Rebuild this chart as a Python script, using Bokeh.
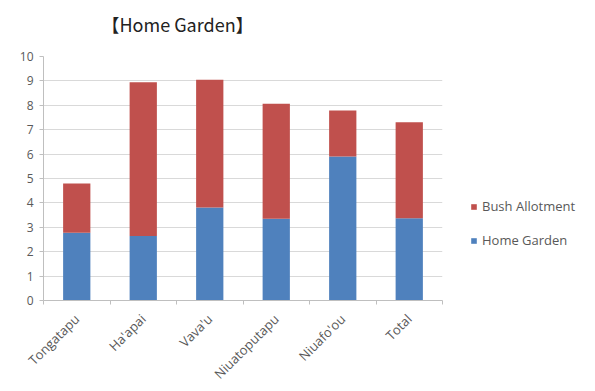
import math
from bokeh.plotting import figure
from bokeh.models import (Range1d, FixedTicker, ColumnDataSource, Legend, LegendItem, Title)
from bokeh.embed import file_html
from bokeh.resources import INLINE

categories = ["Tongatapu", "Ha'apai", "Vava'u", "Niuatoputapu", "Niuafo'ou", "Total"]
home_garden = [2.78, 2.64, 3.81, 3.35, 5.90, 3.37]
bush_allotment = [2.01, 6.30, 5.24, 4.71, 1.89, 3.94]
y_ticks = [0, 1, 2, 3, 4, 5, 6, 7, 8, 9, 10]

BLUE = "#4F81BD"
RED = "#C0504D"
FONT = "Open Sans"

xpos = [i + 0.5 for i in range(len(categories))]
src = ColumnDataSource(dict(x=xpos, home=home_garden, bush=bush_allotment))

p = figure(frame_width=399, frame_height=244,
           x_range=Range1d(0, len(categories)), y_range=Range1d(0, 10),
           output_backend="svg", toolbar_location=None,
           min_border_left=43, min_border_right=137, min_border_top=0, min_border_bottom=75)
p.outline_line_color = None
p.background_fill_color = "white"
p.border_fill_color = "white"

rs = p.vbar_stack(["home", "bush"], x="x", width=0.41, source=src,
                  color=[BLUE, RED], line_color=None)

# axes
p.xgrid.grid_line_color = None
p.ygrid.grid_line_color = "#D9D9D9"
p.ygrid.grid_line_width = 1

p.yaxis.ticker = FixedTicker(ticks=y_ticks)
p.yaxis.axis_line_color = "#BFBFBF"
p.yaxis.major_tick_line_color = "#BFBFBF"
p.yaxis.major_tick_out = 4
p.yaxis.major_tick_in = 0
p.yaxis.minor_tick_line_color = None
p.yaxis.major_label_text_font = FONT
p.yaxis.major_label_text_font_size = "12px"
p.yaxis.major_label_text_color = "#595959"
p.yaxis.major_label_standoff = 6

p.xaxis.ticker = FixedTicker(ticks=xpos, minor_ticks=list(range(len(categories) + 1)))
p.xaxis.major_label_overrides = {x: c for x, c in zip(xpos, categories)}
p.xaxis.major_label_orientation = math.pi / 4
p.xaxis.axis_line_color = "#BFBFBF"
p.xaxis.major_tick_line_color = None
p.xaxis.minor_tick_line_color = "#BFBFBF"
p.xaxis.minor_tick_out = 4
p.xaxis.minor_tick_in = 0
p.xaxis.major_label_text_font = FONT
p.xaxis.major_label_text_font_size = "13px"
p.xaxis.major_label_text_color = "#595959"
p.xaxis.major_label_standoff = 10

# title (outermost) plus a spacer panel between title and frame
p.title.text = "【Home Garden】"
p.title.align = "left"
p.title.offset = 58
p.title.text_font = "Noto Sans CJK JP"
p.title.text_font_size = "18px"
p.title.text_font_style = "normal"
p.title.text_color = "#222222"
p.title.vertical_align = "top"
p.title.standoff = 20

spacer = Title(text=" ", text_font_size="1px", standoff=5)
p.add_layout(spacer, "above")

legend = Legend(items=[LegendItem(label="Bush Allotment", renderers=[rs[1]]),
                       LegendItem(label="Home Garden", renderers=[rs[0]])],
                location=(28, 51), orientation="vertical",
                glyph_width=7, glyph_height=7, label_height=12, spacing=16,
                label_standoff=5, padding=0, margin=0,
                label_text_font=FONT, label_text_font_size="13px",
                label_text_color="#595959",
                border_line_color=None, background_fill_alpha=0)
p.add_layout(legend, "right")

open("out.html", "w").write(file_html(p, INLINE))
